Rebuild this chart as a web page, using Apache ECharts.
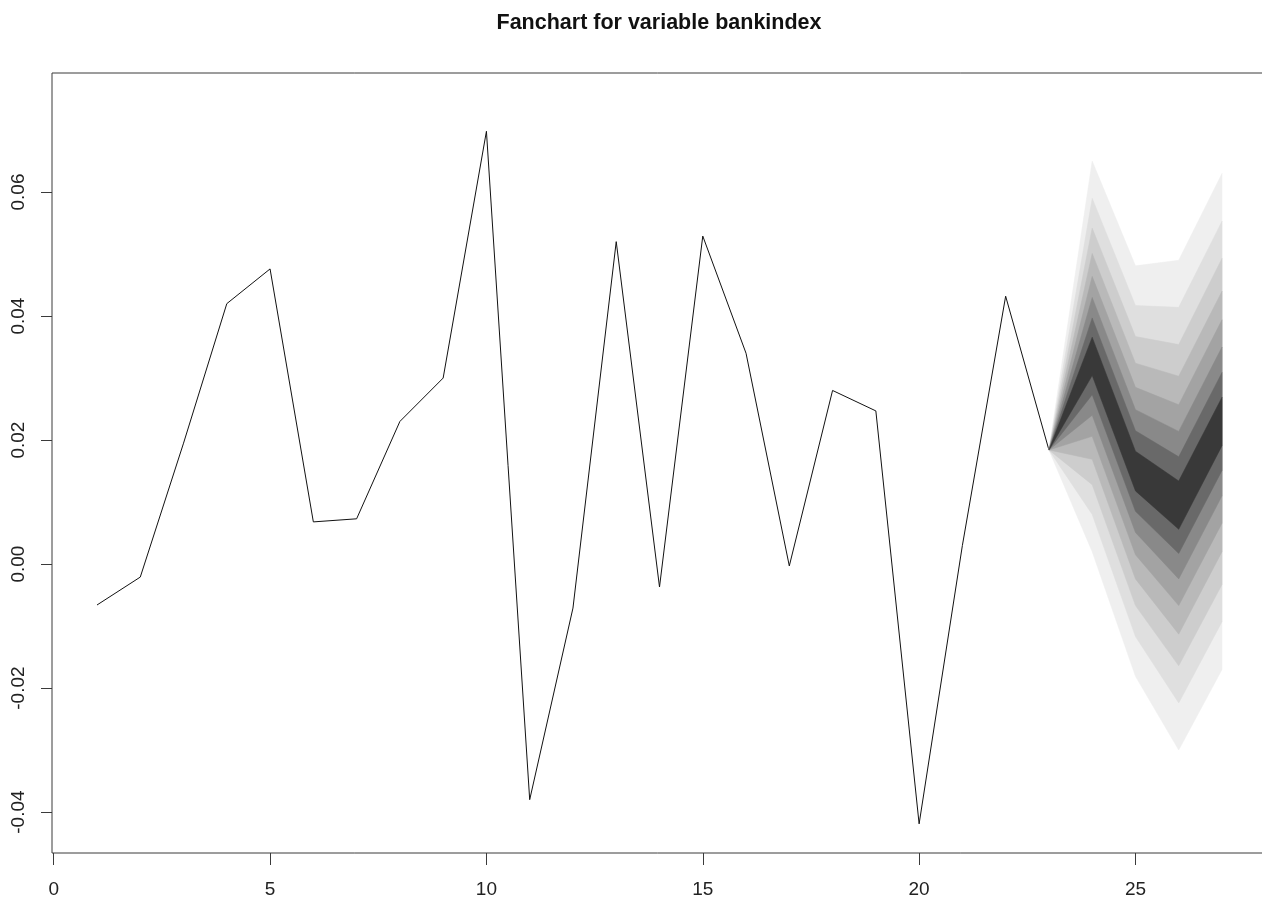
<!DOCTYPE html>
<html>
<head>
<meta charset="utf-8">
<title>Fanchart for variable bankindex</title>
<script src="https://cdn.jsdelivr.net/npm/echarts@6/dist/echarts.min.js"></script>
<style>
  html, body { margin: 0; padding: 0; background: #ffffff; }
  #chart { width: 1262px; height: 902px; }
</style>
</head>
<body>
<div id="chart"></div>
<script>
// Observed series: bankindex, periods 1..23
const periods = [1, 2, 3, 4, 5, 6, 7, 8, 9, 10, 11, 12, 13, 14, 15, 16, 17, 18, 19, 20, 21, 22, 23];
const bankindex = [-0.0066, -0.0021, 0.0195, 0.0420, 0.0476, 0.0068, 0.0073, 0.0230, 0.0300, 0.0698,
                   -0.0380, -0.0071, 0.0520, -0.0037, 0.0529, 0.0340, -0.0003, 0.0280, 0.0247, -0.0419,
                   0.0030, 0.0432, 0.0184];

// Forecast horizon (steps after the last observation)
const horizon = [24, 25, 26, 27];

// Confidence levels of the fan, narrowest first
const ciLevels = [0.1, 0.2, 0.3, 0.4, 0.5, 0.6, 0.7, 0.8];

// Upper and lower bound of each confidence band, one row per level, one column per horizon step
const fanUpper = [
  [0.0366, 0.0182, 0.0134, 0.0269],
  [0.0397, 0.0215, 0.0173, 0.0309],
  [0.0430, 0.0249, 0.0214, 0.0350],
  [0.0464, 0.0285, 0.0257, 0.0394],
  [0.0501, 0.0324, 0.0303, 0.0440],
  [0.0542, 0.0367, 0.0354, 0.0493],
  [0.0590, 0.0417, 0.0414, 0.0553],
  [0.0650, 0.0481, 0.0490, 0.0630]
];
const fanLower = [
  [0.0304, 0.0118, 0.0056, 0.0191],
  [0.0273, 0.0085, 0.0017, 0.0151],
  [0.0240, 0.0051, -0.0024, 0.0110],
  [0.0206, 0.0015, -0.0067, 0.0066],
  [0.0169, -0.0024, -0.0113, 0.0020],
  [0.0128, -0.0067, -0.0164, -0.0033],
  [0.0080, -0.0117, -0.0224, -0.0093],
  [0.0020, -0.0181, -0.0300, -0.0170]
];

// Grey shades of the bands, darkest for the narrowest interval
const fanColors = ['#393939', '#696969', '#898989', '#a3a3a3', '#b9b9b9', '#cdcdcd', '#dfdfdf', '#efefef'];

// Tick labels
const xTicks = [0, 5, 10, 15, 20, 25];
const yTicks = [-0.04, -0.02, 0.00, 0.02, 0.04, 0.06];

const FONT = "'Liberation Sans', Arial, Helvetica, sans-serif";

const chart = echarts.init(document.getElementById('chart'), null, { renderer: 'canvas' });

const linePoints = periods.map((p, i) => [p, bankindex[i]]);
const lastPeriod = periods[periods.length - 1];
const lastValue = bankindex[bankindex.length - 1];

// Widest band first so narrower ones paint on top
const bandOrder = ciLevels.map((_, i) => i).reverse();

const option = {
  backgroundColor: '#ffffff',
  animation: false,
  title: {
    text: 'Fanchart for variable bankindex',
    left: 659,
    top: 12,
    textAlign: 'center',
    padding: 0,
    textStyle: { fontFamily: FONT, fontSize: 21.5, fontWeight: 'bold', color: '#111' }
  },
  grid: {
    left: 52,
    right: -5,
    top: 73,
    bottom: 49,
    show: true,
    borderColor: '#3a3a3a',
    borderWidth: 1,
    backgroundColor: 'transparent',
    containLabel: false,
    outerBoundsMode: 'none'
  },
  xAxis: {
    type: 'value',
    min: -0.04,
    max: 28.04,
    axisLine: { show: false, onZero: false },
    splitLine: { show: false },
    axisTick: {
      show: true,
      inside: false,
      length: 12,
      customValues: xTicks,
      lineStyle: { color: '#3a3a3a', width: 1 }
    },
    axisLabel: {
      customValues: xTicks,
      margin: 27,
      fontFamily: FONT,
      fontSize: 19,
      color: '#222'
    }
  },
  yAxis: {
    type: 'value',
    min: -0.0466,
    max: 0.0792,
    axisLine: { show: false, onZero: false },
    splitLine: { show: false },
    axisTick: {
      show: true,
      inside: false,
      length: 11,
      customValues: yTicks,
      lineStyle: { color: '#3a3a3a', width: 1 }
    },
    axisLabel: {
      customValues: yTicks,
      rotate: 90,
      margin: 24,
      fontFamily: FONT,
      fontSize: 19,
      color: '#222',
      formatter: v => v.toFixed(2)
    }
  },
  series: [
    {
      name: 'bankindex',
      type: 'line',
      data: linePoints,
      showSymbol: false,
      symbol: 'none',
      lineStyle: { color: '#111', width: 1 },
      z: 2
    },
    {
      name: 'fan',
      type: 'custom',
      coordinateSystem: 'cartesian2d',
      data: bandOrder.map(i => [i]),
      encode: { x: -1, y: -1 },
      renderItem: function (params, api) {
        const lvl = api.value(0);
        const pts = [api.coord([lastPeriod, lastValue])];
        horizon.forEach((h, k) => pts.push(api.coord([h, fanUpper[lvl][k]])));
        for (let k = horizon.length - 1; k >= 0; k--) {
          pts.push(api.coord([horizon[k], fanLower[lvl][k]]));
        }
        return {
          type: 'polygon',
          shape: { points: pts },
          style: { fill: fanColors[lvl], stroke: fanColors[lvl], lineWidth: 0.5 }
        };
      },
      z: 3
    }
  ]
};

chart.setOption(option);
</script>
</body>
</html>
